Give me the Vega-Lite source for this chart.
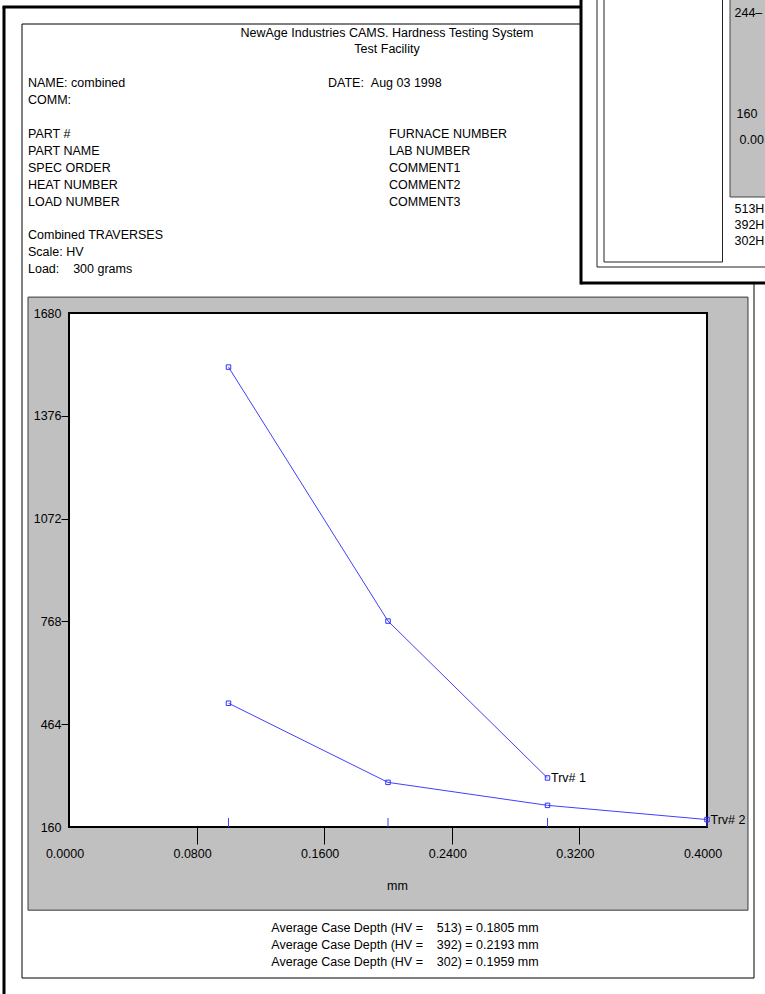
{
  "$schema": "https://vega.github.io/schema/vega-lite/v6.json",
  "width": 638,
  "height": 514,
  "autosize": {"type": "none"},
  "padding": {"left": 69, "top": 313, "right": 58, "bottom": 167},
  "background": "white",
  "config": {
    "view": {"stroke": null},
    "font": "Liberation Sans",
    "text": {"font": "Liberation Sans", "fontSize": 12.5, "color": "black"}
  },
  "datasets": {
    "traverses": [
      {"trv": "Trv# 1", "mm": 0.1, "hv": 1520},
      {"trv": "Trv# 1", "mm": 0.2, "hv": 769},
      {"trv": "Trv# 1", "mm": 0.3, "hv": 305},
      {"trv": "Trv# 2", "mm": 0.1, "hv": 526},
      {"trv": "Trv# 2", "mm": 0.2, "hv": 292},
      {"trv": "Trv# 2", "mm": 0.3, "hv": 224},
      {"trv": "Trv# 2", "mm": 0.4, "hv": 182}
    ],
    "report": [
      {"t": "NewAge Industries CAMS. Hardness Testing System", "block": "title", "line": 0},
      {"t": "Test Facility", "block": "title", "line": 1},
      {"t": "NAME: combined", "block": "left", "line": 3},
      {"t": "COMM:", "block": "left", "line": 4},
      {"t": "PART #", "block": "left", "line": 6},
      {"t": "PART NAME", "block": "left", "line": 7},
      {"t": "SPEC ORDER", "block": "left", "line": 8},
      {"t": "HEAT NUMBER", "block": "left", "line": 9},
      {"t": "LOAD NUMBER", "block": "left", "line": 10},
      {"t": "Combined TRAVERSES", "block": "left", "line": 12},
      {"t": "Scale: HV", "block": "left", "line": 13},
      {"t": "Load:\u00a0\u00a0\u00a0\u00a0300 grams", "block": "left", "line": 14},
      {"t": "DATE:\u00a0\u00a0Aug 03 1998", "block": "date", "line": 3},
      {"t": "FURNACE NUMBER", "block": "right", "line": 6},
      {"t": "LAB NUMBER", "block": "right", "line": 7},
      {"t": "COMMENT1", "block": "right", "line": 8},
      {"t": "COMMENT2", "block": "right", "line": 9},
      {"t": "COMMENT3", "block": "right", "line": 10},
      {"t": "Average Case Depth (HV =\u00a0\u00a0\u00a0\u00a0513) = 0.1805 mm", "block": "footer", "line": 53},
      {"t": "Average Case Depth (HV =\u00a0\u00a0\u00a0\u00a0392) = 0.2193 mm", "block": "footer", "line": 54},
      {"t": "Average Case Depth (HV =\u00a0\u00a0\u00a0\u00a0302) = 0.1959 mm", "block": "footer", "line": 55}
    ]
  },
  "layer": [
    {
      "data": {"values": [{"frame": "page"}]},
      "layer": [
        {"mark": {"type": "rect", "fill": null, "filled": false, "stroke": "black", "strokeWidth": 1},
         "encoding": {"x": {"value": -47}, "x2": {"value": 685}, "y": {"value": -289}, "y2": {"value": 665}}},
        {"mark": {"type": "rule", "color": "black", "strokeWidth": 3},
         "encoding": {"x": {"value": -65}, "y": {"value": -306}, "y2": {"value": 690}}},
        {"mark": {"type": "rule", "color": "black", "strokeWidth": 3},
         "encoding": {"y": {"value": -306}, "x": {"value": -66.5}, "x2": {"value": 512}}},
        {"mark": {"type": "rect", "fill": "white", "strokeWidth": 0},
         "encoding": {"x": {"value": 511}, "x2": {"value": 700}, "y": {"value": -320}, "y2": {"value": -30}}},
        {"mark": {"type": "rule", "color": "black", "strokeWidth": 3},
         "encoding": {"x": {"value": 512}, "y": {"value": -320}, "y2": {"value": -28.5}}},
        {"mark": {"type": "rule", "color": "black", "strokeWidth": 3},
         "encoding": {"y": {"value": -30}, "x": {"value": 512}, "x2": {"value": 700}}},
        {"mark": {"type": "rule", "color": "#222", "strokeWidth": 1},
         "encoding": {"x": {"value": 528}, "y": {"value": -320}, "y2": {"value": -46}}},
        {"mark": {"type": "rule", "color": "#222", "strokeWidth": 1},
         "encoding": {"y": {"value": -46}, "x": {"value": 528}, "x2": {"value": 700}}},
        {"mark": {"type": "rect", "fill": null, "filled": false, "stroke": "#222", "strokeWidth": 1},
         "encoding": {"x": {"value": 535}, "x2": {"value": 653.5}, "y": {"value": -330}, "y2": {"value": -51}}},
        {"mark": {"type": "rect", "fill": "#c0c0c0", "stroke": "#444", "strokeWidth": 1},
         "encoding": {"x": {"value": 661}, "x2": {"value": 710}, "y": {"value": -330}, "y2": {"value": -116}}},
        {"mark": {"type": "text", "align": "left", "baseline": "middle", "text": "244\u2013"},
         "encoding": {"x": {"value": 665.5}, "y": {"value": -300}}},
        {"mark": {"type": "text", "align": "left", "baseline": "middle", "text": "160"},
         "encoding": {"x": {"value": 667.5}, "y": {"value": -199}}},
        {"mark": {"type": "text", "align": "left", "baseline": "middle", "text": "0.00"},
         "encoding": {"x": {"value": 670.5}, "y": {"value": -173}}},
        {"mark": {"type": "text", "align": "left", "baseline": "middle", "text": "513H"},
         "encoding": {"x": {"value": 665.5}, "y": {"value": -104}}},
        {"mark": {"type": "text", "align": "left", "baseline": "middle", "text": "392H"},
         "encoding": {"x": {"value": 665.5}, "y": {"value": -88}}},
        {"mark": {"type": "text", "align": "left", "baseline": "middle", "text": "302H"},
         "encoding": {"x": {"value": 665.5}, "y": {"value": -72.5}}}
      ]
    },
    {
      "layer": [
        {
          "data": {"values": [{"panel": "plot"}]},
          "mark": {"type": "rect", "fill": "#c0c0c0", "stroke": "#3a3a3a", "strokeWidth": 1},
          "encoding": {
            "x": {"datum": -0.0257, "type": "quantitative", "scale": {"domain": [0, 0.4], "nice": false, "zero": false}},
            "x2": {"datum": 0.4257},
            "y": {"datum": 1727, "type": "quantitative", "scale": {"domain": [160, 1680], "nice": false, "zero": false}},
            "y2": {"datum": -86}
          }
        },
        {
          "data": {"values": [{"panel": "plot"}]},
          "mark": {"type": "rect", "fill": "white", "stroke": "black", "strokeWidth": 2},
          "encoding": {
            "x": {"datum": 0, "type": "quantitative", "scale": {"domain": [0, 0.4], "nice": false, "zero": false}},
            "x2": {"datum": 0.4},
            "y": {"datum": 160, "type": "quantitative", "scale": {"domain": [160, 1680], "nice": false, "zero": false}},
            "y2": {"datum": 1680}
          }
        },
        {
          "data": {"name": "traverses"},
          "mark": {"type": "line", "color": "#4040ff", "strokeWidth": 1},
          "encoding": {
            "x": {
              "field": "mm", "type": "quantitative",
              "scale": {"domain": [0, 0.4], "nice": false, "zero": false},
              "axis": {
                "values": [0, 0.08, 0.16, 0.24, 0.32, 0.4],
                "format": ".4f",
                "title": "mm",
                "grid": false,
                "domain": false,
                "tickSize": 17,
                "tickWidth": 1,
                "tickColor": {"condition": {"test": "datum.value < 0.01 || datum.value > 0.39", "value": "transparent"}, "value": "black"},
                "labelFont": "Liberation Sans",
                "labelFontSize": 12.5,
                "labelColor": "black",
                "labelPadding": 3,
                "labelOffset": -4.5,
                "labelFlush": false,
                "labelOverlap": false,
                "titleFont": "Liberation Sans",
                "titleFontSize": 12.5,
                "titleFontWeight": "normal",
                "titleColor": "black",
                "titlePadding": 20,
                "titleX": 328,
                "zindex": 1
              }
            },
            "y": {
              "field": "hv", "type": "quantitative",
              "scale": {"domain": [160, 1680], "nice": false, "zero": false},
              "axis": {
                "values": [160, 464, 768, 1072, 1376, 1680],
                "format": "d",
                "title": null,
                "grid": false,
                "domain": false,
                "tickSize": 8,
                "tickWidth": 1,
                "tickColor": {"condition": {"test": "datum.value < 200 || datum.value > 1600", "value": "transparent"}, "value": "black"},
                "labelFont": "Liberation Sans",
                "labelFontSize": 12.5,
                "labelColor": "black",
                "labelPadding": 0,
                "labelOverlap": false,
                "zindex": 1
              }
            },
            "detail": {"field": "trv", "type": "nominal"}
          }
        },
        {
          "data": {"name": "traverses"},
          "transform": [{"aggregate": [{"op": "count", "as": "n"}], "groupby": ["mm"]}],
          "mark": {"type": "tick", "orient": "vertical", "size": 9, "thickness": 1, "yOffset": -4.5, "color": "#4040ff", "opacity": 1},
          "encoding": {
            "x": {"field": "mm", "type": "quantitative", "scale": {"domain": [0, 0.4], "nice": false, "zero": false}},
            "y": {"datum": 160, "type": "quantitative", "scale": {"domain": [160, 1680], "nice": false, "zero": false}}
          }
        },
        {
          "data": {"name": "traverses"},
          "mark": {"type": "point", "shape": "square", "size": 20, "filled": false, "color": "#3030ff", "strokeWidth": 1, "opacity": 1},
          "encoding": {
            "x": {"field": "mm", "type": "quantitative", "scale": {"domain": [0, 0.4], "nice": false, "zero": false}},
            "y": {"field": "hv", "type": "quantitative", "scale": {"domain": [160, 1680], "nice": false, "zero": false}}
          }
        },
        {
          "data": {"name": "traverses"},
          "transform": [
            {"joinaggregate": [{"op": "max", "field": "mm", "as": "lastmm"}], "groupby": ["trv"]},
            {"filter": "datum.mm == datum.lastmm"}
          ],
          "mark": {"type": "text", "align": "left", "baseline": "middle", "dx": 3.5, "fontSize": 12.5, "color": "black"},
          "encoding": {
            "x": {"field": "mm", "type": "quantitative", "scale": {"domain": [0, 0.4], "nice": false, "zero": false}},
            "y": {"field": "hv", "type": "quantitative", "scale": {"domain": [160, 1680], "nice": false, "zero": false}},
            "text": {"field": "trv"}
          }
        }
      ]
    },
    {
      "data": {"name": "report"},
      "layer": [
        {
          "transform": [{"filter": "datum.block == 'left'"}],
          "mark": {"type": "text", "align": "left", "baseline": "middle"},
          "encoding": {
            "x": {"value": -41},
            "y": {"field": "line", "type": "quantitative", "scale": {"domain": [0, 55], "range": [-280.5, 649]}, "axis": null},
            "text": {"field": "t"}
          }
        },
        {
          "transform": [{"filter": "datum.block == 'date'"}],
          "mark": {"type": "text", "align": "left", "baseline": "middle"},
          "encoding": {
            "x": {"value": 259},
            "y": {"field": "line", "type": "quantitative", "scale": {"domain": [0, 55], "range": [-280.5, 649]}, "axis": null},
            "text": {"field": "t"}
          }
        },
        {
          "transform": [{"filter": "datum.block == 'right'"}],
          "mark": {"type": "text", "align": "left", "baseline": "middle"},
          "encoding": {
            "x": {"value": 320},
            "y": {"field": "line", "type": "quantitative", "scale": {"domain": [0, 55], "range": [-280.5, 649]}, "axis": null},
            "text": {"field": "t"}
          }
        },
        {
          "transform": [{"filter": "datum.block == 'title'"}],
          "mark": {"type": "text", "align": "center", "baseline": "middle"},
          "encoding": {
            "x": {"value": 318},
            "y": {"field": "line", "type": "quantitative", "scale": {"domain": [0, 55], "range": [-280.5, 649]}, "axis": null},
            "text": {"field": "t"}
          }
        },
        {
          "transform": [{"filter": "datum.block == 'footer'"}],
          "mark": {"type": "text", "align": "center", "baseline": "middle"},
          "encoding": {
            "x": {"value": 336},
            "y": {"field": "line", "type": "quantitative", "scale": {"domain": [0, 55], "range": [-280.5, 649]}, "axis": null},
            "text": {"field": "t"}
          }
        }
      ]
    }
  ],
  "resolve": {"scale": {"y": "independent"}}
}
